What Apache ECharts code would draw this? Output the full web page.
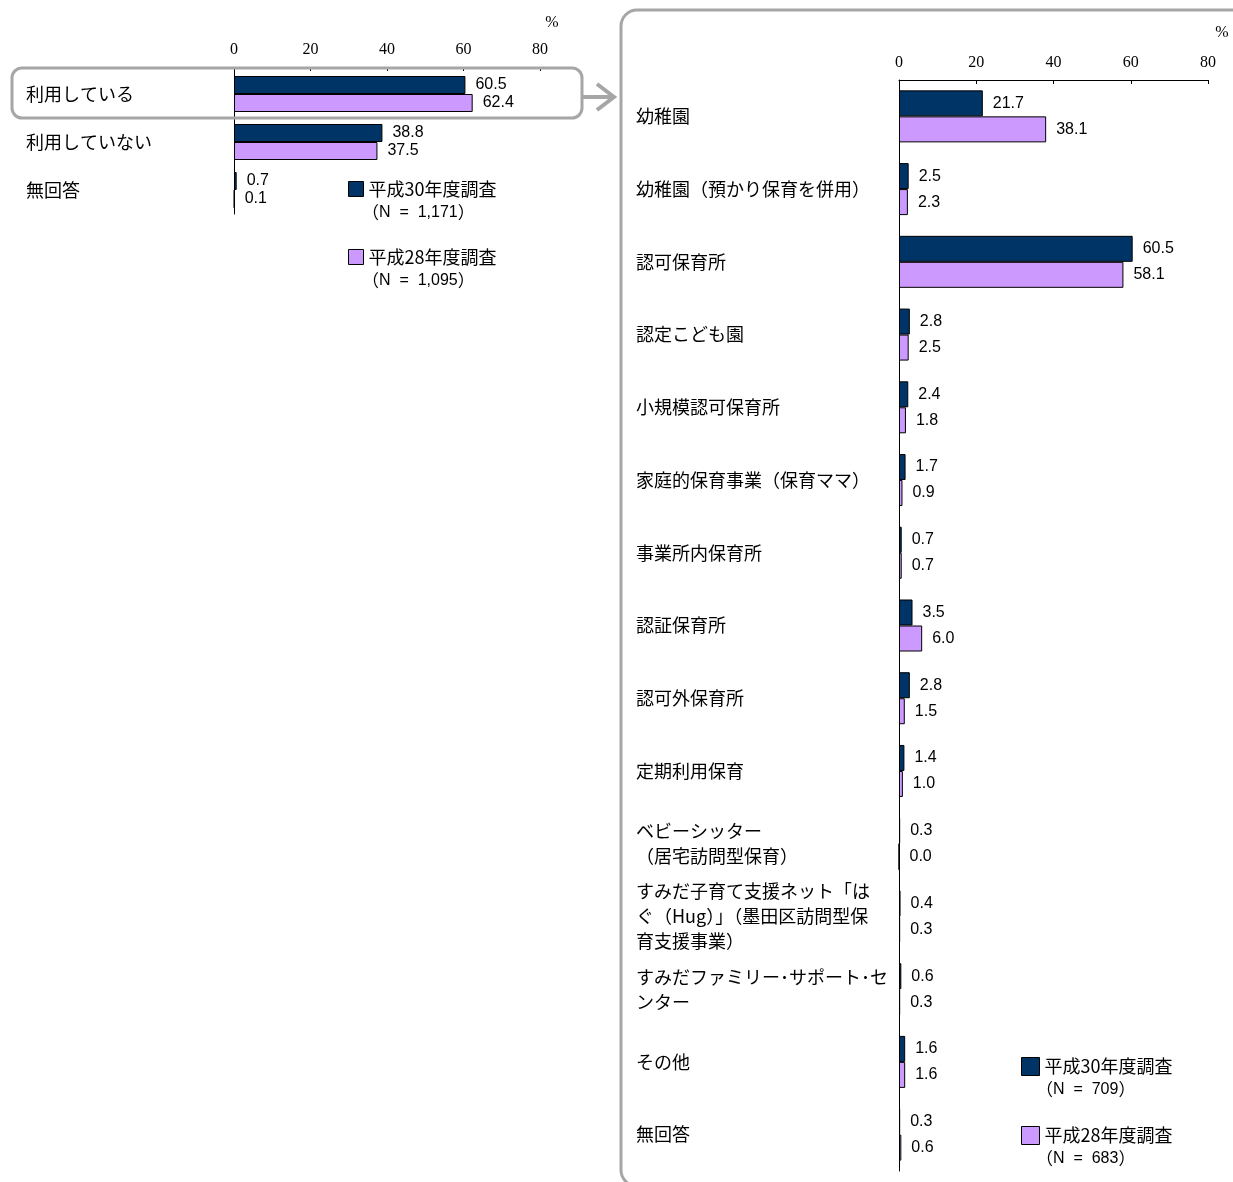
<!DOCTYPE html>
<html>
<head>
<meta charset="utf-8">
<script src="https://cdn.jsdelivr.net/npm/echarts@6/dist/echarts.min.js"></script>
<style>
html,body{margin:0;padding:0;background:#fff;}
#chart{width:1233px;height:1182px;}
</style>
</head>
<body>
<div id="chart"></div>
<script>
const seriesNames = ['平成30年度調査', '平成28年度調査'];
const xTicks = [0, 20, 40, 60, 80];

const leftCategories = ['利用している', '利用していない', '無回答'];
const leftH30 = [60.5, 38.8, 0.7];
const leftH28 = [62.4, 37.5, 0.1];
const leftN = ['N = 1,171', 'N = 1,095'];

const rightCategories = [
  '幼稚園',
  '幼稚園（預かり保育を併用）',
  '認可保育所',
  '認定こども園',
  '小規模認可保育所',
  '家庭的保育事業（保育ママ）',
  '事業所内保育所',
  '認証保育所',
  '認可外保育所',
  '定期利用保育',
  'ベビーシッター\n（居宅訪問型保育）',
  'すみだ子育て支援ネット「は\nぐ（Hug）」（墨田区訪問型保\n育支援事業）',
  'すみだファミリー･サポート･セ\nンター',
  'その他',
  '無回答'
];
const rightH30 = [21.7, 2.5, 60.5, 2.8, 2.4, 1.7, 0.7, 3.5, 2.8, 1.4, 0.3, 0.4, 0.6, 1.6, 0.3];
const rightH28 = [38.1, 2.3, 58.1, 2.5, 1.8, 0.9, 0.7, 6.0, 1.5, 1.0, 0.0, 0.3, 0.3, 1.6, 0.6];
const rightN = ['N = 709', 'N = 683'];

const colors = ['#003366', '#cc99ff'];
const JP = '"Noto Sans CJK JP", "Noto Sans", sans-serif';
const NUM = '"Liberation Sans", Arial, sans-serif';
const SERIF = '"Liberation Serif", "DejaVu Serif", serif';

const chart = echarts.init(document.getElementById('chart'), null, {renderer: 'canvas'});

function xAxisDef(gridIndex, offset) {
  return {
    type: 'value', gridIndex: gridIndex, position: 'top', min: 0, max: 80, interval: 20,
    offset: offset,
    axisLine: {show: true, lineStyle: {color: '#000', width: 1}},
    axisTick: {show: true, inside: true, length: 4, lineStyle: {color: '#000'}},
    splitLine: {show: false},
    axisLabel: {fontFamily: SERIF, fontSize: 16, color: '#000', margin: 9,
      formatter: v => xTicks.includes(v) ? String(v) : ''}
  };
}
function yAxisDef(gridIndex, cats, margin, lh, padTop) {
  return {
    type: 'category', gridIndex: gridIndex, data: cats, inverse: true,
    axisLine: {show: true, lineStyle: {color: '#000', width: 1}},
    axisTick: {show: false},
    axisLabel: {align: 'left', margin: margin, fontFamily: JP, fontSize: 18, color: '#000',
      lineHeight: lh, padding: [padTop, 0, 0, 0], interval: 0}
  };
}
function barSeries(name, data, xi, yi, width, ci) {
  return {
    name: name, type: 'bar', xAxisIndex: xi, yAxisIndex: yi, data: data,
    barWidth: width, barGap: '0%',
    itemStyle: {color: colors[ci], borderColor: '#000', borderWidth: 1},
    label: {show: true, position: 'right', distance: 10, fontFamily: NUM, fontSize: 16, color: '#000',
      formatter: p => Number(p.value).toFixed(1)},
    emphasis: {disabled: true}, animation: false
  };
}
function legendDef(name, left, top, size) {
  return {
    data: [name], left: left, top: top, orient: 'vertical',
    itemWidth: size, itemHeight: size, itemGap: 10, icon: 'rect', selectedMode: false,
    textStyle: {fontFamily: JP, fontSize: 18, color: '#000'},
    itemStyle: {borderColor: '#000', borderWidth: 1}
  };
}
function nText(x, y, t) {
  return {type: 'text', z: 100, style: {x: x, y: y,
    text: '{p|（}{t|' + t.replace(/ = /, '  =  ') + '}{p|）}',
    textVerticalAlign: 'middle',
    rich: {
      p: {fontFamily: JP, fontSize: 17, fill: '#000', color: '#000'},
      t: {fontFamily: NUM, fontSize: 16, fill: '#000', color: '#000'}
    }}};
}

const option = {
  animation: false,
  backgroundColor: '#fff',
  grid: [
    {left: 234, top: 70, width: 306, height: 144},
    {left: 899, top: 80, width: 309, height: 1091}
  ],
  xAxis: [xAxisDef(0, 3), xAxisDef(1, 0)],
  yAxis: [yAxisDef(0, leftCategories, 208, 22, 11), yAxisDef(1, rightCategories, 263, 25, 6)],
  legend: [
    legendDef(seriesNames[0], 343, 175, 15),
    legendDef(seriesNames[1], 343, 243, 15),
    legendDef(seriesNames[0], 1016, 1052, 18),
    legendDef(seriesNames[1], 1016, 1121, 18)
  ],
  series: [
    barSeries(seriesNames[0], leftH30, 0, 0, 18, 0),
    barSeries(seriesNames[1], leftH28, 0, 0, 18, 1),
    barSeries(seriesNames[0], rightH30, 1, 1, 26, 0),
    barSeries(seriesNames[1], rightH28, 1, 1, 26, 1)
  ],
  graphic: [
    {type: 'rect', z: 100, shape: {x: 12, y: 68, width: 570, height: 50, r: 10},
      style: {fill: 'none', stroke: '#a6a6a6', lineWidth: 3}},
    {type: 'polyline', z: 100, shape: {points: [[582, 97], [613, 97]]},
      style: {stroke: '#a6a6a6', lineWidth: 4, fill: 'none'}},
    {type: 'polyline', z: 100, shape: {points: [[597, 84], [614, 97], [597, 110]]},
      style: {stroke: '#a6a6a6', lineWidth: 4, fill: 'none'}},
    {type: 'rect', z: 100, shape: {x: 621, y: 10, width: 660, height: 1176, r: 16},
      style: {fill: 'none', stroke: '#a6a6a6', lineWidth: 3}},
    {type: 'text', z: 100, style: {x: 552, y: 23, text: '%', fontFamily: SERIF, fontSize: 16, fill: '#000', textAlign: 'center', textVerticalAlign: 'middle'}},
    {type: 'text', z: 100, style: {x: 1222, y: 33, text: '%', fontFamily: SERIF, fontSize: 16, fill: '#000', textAlign: 'center', textVerticalAlign: 'middle'}},
    nText(362, 213, leftN[0]),
    nText(362, 281, leftN[1]),
    nText(1036, 1090, rightN[0]),
    nText(1036, 1159, rightN[1])
  ]
};
chart.setOption(option);
</script>
</body>
</html>
